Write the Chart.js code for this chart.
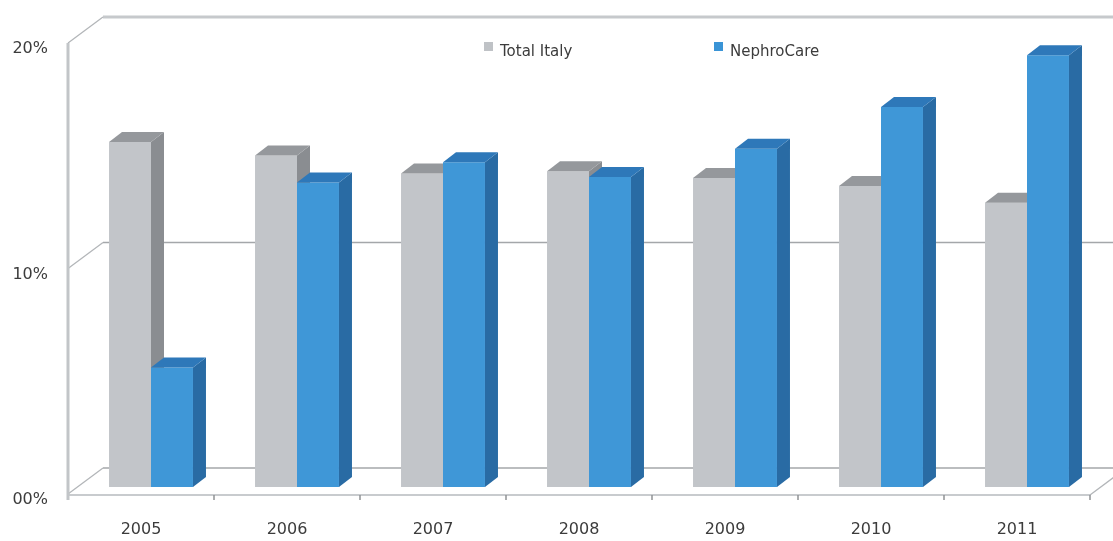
<!DOCTYPE html>
<html>
<head>
<meta charset="utf-8">
<script src="https://cdn.jsdelivr.net/npm/chart.js@4/dist/chart.umd.min.js"></script>
<style>
  html, body { margin: 0; padding: 0; background: #ffffff; }
  #wrap { width: 1113px; height: 541px; position: relative; }
</style>
</head>
<body>
<div id="wrap"><canvas id="c" width="1113" height="541"></canvas></div>
<script>
// Annual growth, percent
const years = ['2005', '2006', '2007', '2008', '2009', '2010', '2011'];
const totalItaly = [15.3, 14.7, 13.9, 14.0, 13.7, 13.35, 12.6];
const nephroCare = [5.3, 13.5, 14.4, 13.75, 15.0, 16.85, 19.15];
const yTickLabels = ['00%', '10%', '20%'];
const seriesNames = ['Total Italy', 'NephroCare'];

const FONT = 'DejaVu Sans, Verdana, sans-serif';
const TEXT = '#3c3c3c';

// oblique depth offsets for the 3D look
const WALL = { dx: 35, dy: -26 };   // back wall relative to the front plane
const BAR_SHIFT = { dx: 10, dy: -7 }; // plane of the bar fronts
const BAR_DEPTH = { dx: 13, dy: -10 };

const faces = [
  { front: '#c2c5c9', side: '#8a8d91', top: '#95989c', key: '#bfc2c6' },
  { front: '#3f97d7', side: '#296ba4', top: '#2e78b9', key: '#3a94d6' }
];

function poly(ctx, pts, color) {
  ctx.beginPath();
  ctx.moveTo(pts[0][0], pts[0][1]);
  for (let k = 1; k < pts.length; k++) ctx.lineTo(pts[k][0], pts[k][1]);
  ctx.closePath();
  ctx.fillStyle = color;
  ctx.fill();
}

function line(ctx, x1, y1, x2, y2, color, w) {
  ctx.beginPath();
  ctx.moveTo(x1, y1);
  ctx.lineTo(x2, y2);
  ctx.strokeStyle = color;
  ctx.lineWidth = w;
  ctx.stroke();
}

const box3d = {
  id: 'box3d',
  beforeDatasetsDraw(chart) {
    const { ctx, chartArea: { left, right, top, bottom }, scales: { x, y } } = chart;
    ctx.save();
    ctx.lineCap = 'butt';

    // back wall gridlines and left wall diagonals
    y.ticks.forEach((t) => {
      const yy = y.getPixelForValue(t.value);
      const isTop = t.value === y.max;
      line(ctx, left + WALL.dx, yy + WALL.dy, right + WALL.dx + 40, yy + WALL.dy,
        isTop ? '#c6c9cc' : '#a4a7aa', isTop ? 3 : 1.5);
      line(ctx, left, yy, left + WALL.dx, yy + WALL.dy, '#b3b6b9', 1.3);
    });

    // floor: front edge, right diagonal, category ticks
    line(ctx, left, bottom + 1, right, bottom + 1, '#c8cbce', 2);
    line(ctx, right, bottom + 1, right + WALL.dx, bottom + 1 + WALL.dy, '#b3b6b9', 1.3);
    const n = years.length;
    for (let i = 1; i <= n; i++) {
      const xx = i < n
        ? (x.getPixelForValue(i - 1) + x.getPixelForValue(i)) / 2
        : right;
      line(ctx, xx, bottom + 1, xx, bottom + 6, '#8f9295', 1.5);
    }

    // vertical axis line on the front plane
    line(ctx, left, top, left, bottom + 6, '#c2c5c8', 3);

    // bars with their side and top faces, drawn per category so the
    // right-hand bar hides the neighbour's side face
    ctx.translate(BAR_SHIFT.dx, BAR_SHIFT.dy);
    for (let i = 0; i < n; i++) {
      chart.data.datasets.forEach((ds, d) => {
        const meta = chart.getDatasetMeta(d);
        const el = meta.data[i];
        const p = el.getProps(['x', 'y', 'base', 'width'], true);
        const x1 = p.x - p.width / 2;
        const x2 = p.x + p.width / 2;
        const yt = p.y;
        const yb = p.base;
        el.draw(ctx);
        poly(ctx, [[x2, yt], [x2 + BAR_DEPTH.dx, yt + BAR_DEPTH.dy],
                   [x2 + BAR_DEPTH.dx, yb + BAR_DEPTH.dy], [x2, yb]], faces[d].side);
        poly(ctx, [[x1, yt], [x1 + BAR_DEPTH.dx, yt + BAR_DEPTH.dy],
                   [x2 + BAR_DEPTH.dx, yt + BAR_DEPTH.dy], [x2, yt]], faces[d].top);
      });
    }
    ctx.restore();
    return false;
  },
  afterDraw(chart) {
    // legend
    const { ctx } = chart;
    const keys = [{ x: 484, y: 42 }, { x: 714, y: 42 }];
    ctx.save();
    ctx.font = '15px ' + FONT;
    ctx.textBaseline = 'middle';
    ctx.textAlign = 'left';
    chart.data.datasets.forEach((ds, d) => {
      ctx.fillStyle = faces[d].key;
      ctx.fillRect(keys[d].x, keys[d].y, 9, 9);
      ctx.fillStyle = TEXT;
      ctx.fillText(ds.label, keys[d].x + 16, keys[d].y + 10);
    });
    ctx.restore();
  }
};

new Chart(document.getElementById('c'), {
  type: 'bar',
  data: {
    labels: years,
    datasets: [
      { label: seriesNames[0], data: totalItaly, backgroundColor: faces[0].front, borderWidth: 0 },
      { label: seriesNames[1], data: nephroCare, backgroundColor: faces[1].front, borderWidth: 0 }
    ]
  },
  options: {
    responsive: false,
    animation: false,
    devicePixelRatio: 1,
    layout: { padding: { top: 43, right: 23, left: 0, bottom: 0 } },
    plugins: { legend: { display: false }, tooltip: { enabled: false } },
    datasets: { bar: { barPercentage: 1.0, categoryPercentage: 0.575 } },
    scales: {
      x: {
        grid: { display: false, drawTicks: false },
        border: { display: false },
        ticks: { font: { family: FONT, size: 16 }, color: TEXT, padding: 26, maxRotation: 0 },
        afterFit(s) { s.height = 47; }
      },
      y: {
        min: 0,
        max: 20,
        grid: { display: false, drawTicks: false },
        border: { display: false },
        ticks: {
          stepSize: 10,
          font: { family: FONT, size: 16 },
          color: TEXT,
          padding: 20,
          labelOffset: 6,
          callback: (v, i) => yTickLabels[i]
        },
        afterFit(s) { s.width = 68; }
      }
    }
  },
  plugins: [box3d]
});
</script>
</body>
</html>
